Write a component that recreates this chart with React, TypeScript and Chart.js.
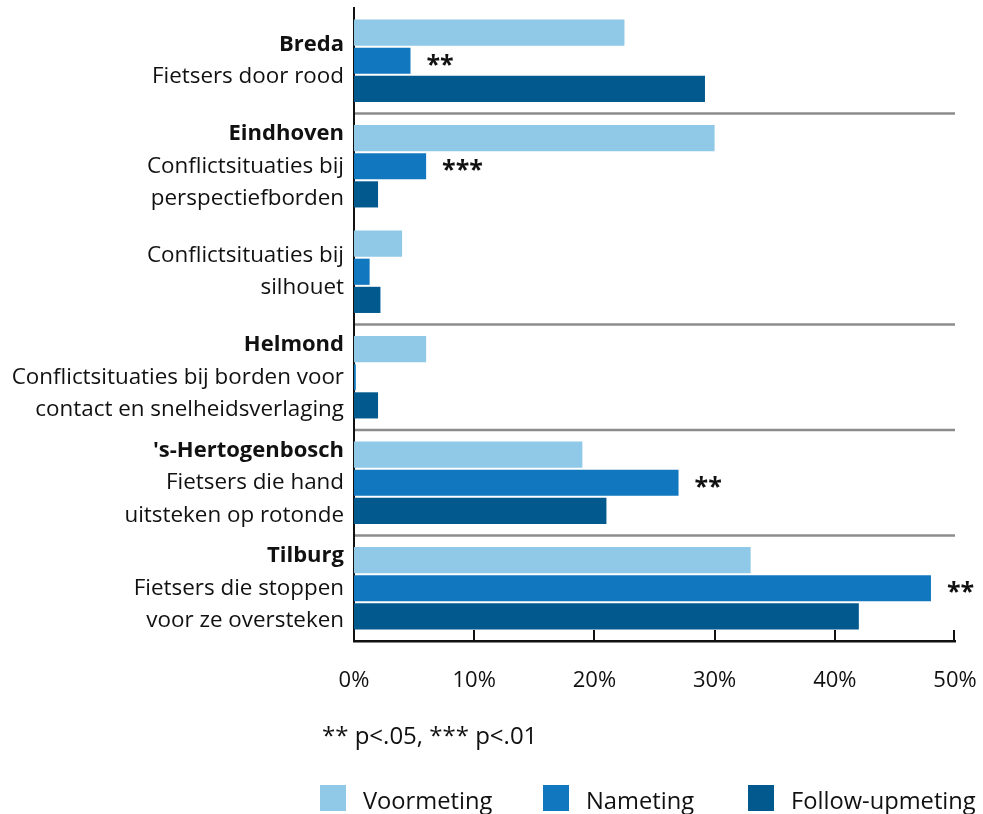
import React, { useEffect, useRef } from "react";
import { Chart, registerables } from "chart.js";

Chart.register(...registerables);

const cityNames = ["Breda", "Eindhoven", "", "Helmond", "'s-Hertogenbosch", "Tilburg"];
const measureLines = [
  ["Fietsers door rood"],
  ["Conflictsituaties bij", "perspectiefborden"],
  ["Conflictsituaties bij", "silhouet"],
  ["Conflictsituaties bij borden voor", "contact en snelheidsverlaging"],
  ["Fietsers die hand", "uitsteken op rotonde"],
  ["Fietsers die stoppen", "voor ze oversteken"],
];
const seriesNames = ["Voormeting", "Nameting", "Follow-upmeting"];
const voormeting = [22.5, 30, 4, 6, 19, 33];
const nameting = [4.7, 6, 1.3, 0.15, 27, 48];
const followUp = [29.2, 2, 2.2, 2, 21, 42];
const significance = ["**", "***", "", "", "**", "**"];
const separatorAfter = [0, 2, 3, 4];
const footnote = "** p<.05, *** p<.01";
const xMin = 0;
const xMax = 50;
const xStep = 10;

const colors = ["#8FC9E7", "#1178BF", "#01598E"];
const FONT = "'Open Sans', 'Noto Sans', sans-serif";

export default function App() {
  const ref = useRef<HTMLCanvasElement | null>(null);

  useEffect(() => {
    document.body.style.margin = "0";
    const canvas = ref.current;
    if (!canvas) return;

    const overlay = {
      id: "overlay",
      afterDraw(chart: any) {
        const ctx = chart.ctx;
        const area = chart.chartArea;
        const y = chart.scales.y;
        const x = chart.scales.x;
        ctx.save();
        // separators
        ctx.strokeStyle = "#8c8c8c";
        ctx.lineWidth = 2.5;
        separatorAfter.forEach((i) => {
          const yy = (y.getPixelForValue(i) + y.getPixelForValue(i + 1)) / 2;
          ctx.beginPath();
          ctx.moveTo(area.left + 1, yy);
          ctx.lineTo(area.right, yy);
          ctx.stroke();
        });
        // tick marks upward
        ctx.strokeStyle = "#111";
        ctx.lineWidth = 2;
        x.ticks.forEach((t: any) => {
          if (t.value === xMin) return;
          const xx = Math.round(x.getPixelForValue(t.value)) - (t.value === xMax ? 1 : 0);
          ctx.beginPath();
          ctx.moveTo(xx, area.bottom);
          ctx.lineTo(xx, area.bottom - 11);
          ctx.stroke();
        });
        // y labels
        const lh = 32.5;
        ctx.textAlign = "right";
        ctx.textBaseline = "middle";
        ctx.fillStyle = "#111";
        cityNames.forEach((city, i) => {
          const lines = city ? [city, ...measureLines[i]] : measureLines[i];
          const cy = y.getPixelForValue(i);
          const start = cy - ((lines.length - 1) / 2) * lh;
          lines.forEach((ln, j) => {
            ctx.font = (city && j === 0 ? "bold 22px " : "22.4px ") + FONT;
            ctx.fillText(ln, area.left - 10, start + j * lh);
          });
        });
        // significance marks
        const meta = chart.getDatasetMeta(1);
        ctx.textAlign = "left";
        ctx.font = "bold 25px " + FONT;
        significance.forEach((s, i) => {
          if (!s) return;
          const bar = meta.data[i];
          ctx.fillText(s, bar.x + 16, bar.y + 5);
        });
        // footnote
        ctx.font = "24px " + FONT;
        ctx.fillText(footnote, 322, 737);
        // legend
        ctx.font = "23.7px " + FONT;
        const lx = [320, 543, 748];
        seriesNames.forEach((n, i) => {
          ctx.fillStyle = colors[i];
          ctx.fillRect(lx[i], 785, 26, 26);
          ctx.fillStyle = "#111";
          ctx.fillText(n, lx[i] + 43, 802);
        });
        ctx.restore();
      },
    };

    const chart = new Chart(canvas, {
      type: "bar",
      data: {
        labels: cityNames.map((c, i) => [c, ...measureLines[i]].filter(Boolean).join(" ")),
        datasets: [
          { label: seriesNames[0], data: voormeting, backgroundColor: colors[0] },
          { label: seriesNames[1], data: nameting, backgroundColor: colors[1] },
          { label: seriesNames[2], data: followUp, backgroundColor: colors[2] },
        ].map((d) => ({ ...d, barPercentage: 0.93, categoryPercentage: 0.8 })),
      },
      options: {
        indexAxis: "y",
        responsive: false,
        animation: false,
        layout: { padding: { left: 0, top: 8, right: 28, bottom: 0 } },
        plugins: { legend: { display: false }, tooltip: { enabled: false } },
        scales: {
          x: {
            min: xMin,
            max: xMax,
            grid: { display: false, drawTicks: false },
            border: { display: true, color: "#111", width: 2.5 },
            ticks: {
              stepSize: xStep,
              padding: 27,
              color: "#111",
              font: { family: FONT, size: 22 },
              callback: (v: any) => v + "%",
              maxRotation: 0,
            },
            afterFit: (s: any) => {
              s.height = 173;
              s.paddingLeft = 0;
              s.paddingRight = 0;
            },
          },
          y: {
            grid: { display: false, drawTicks: false },
            border: { display: true, color: "#111", width: 2 },
            ticks: { display: false },
            afterFit: (s: any) => {
              s.width = 354;
              s.paddingTop = 0;
              s.paddingBottom = 0;
            },
          },
        },
      },
      plugins: [overlay],
    } as any);

    return () => chart.destroy();
  }, []);

  return (
    <div style={{ width: 983, height: 814, overflow: "hidden" }}>
      <canvas ref={ref} width={983} height={814} />
    </div>
  );
}
